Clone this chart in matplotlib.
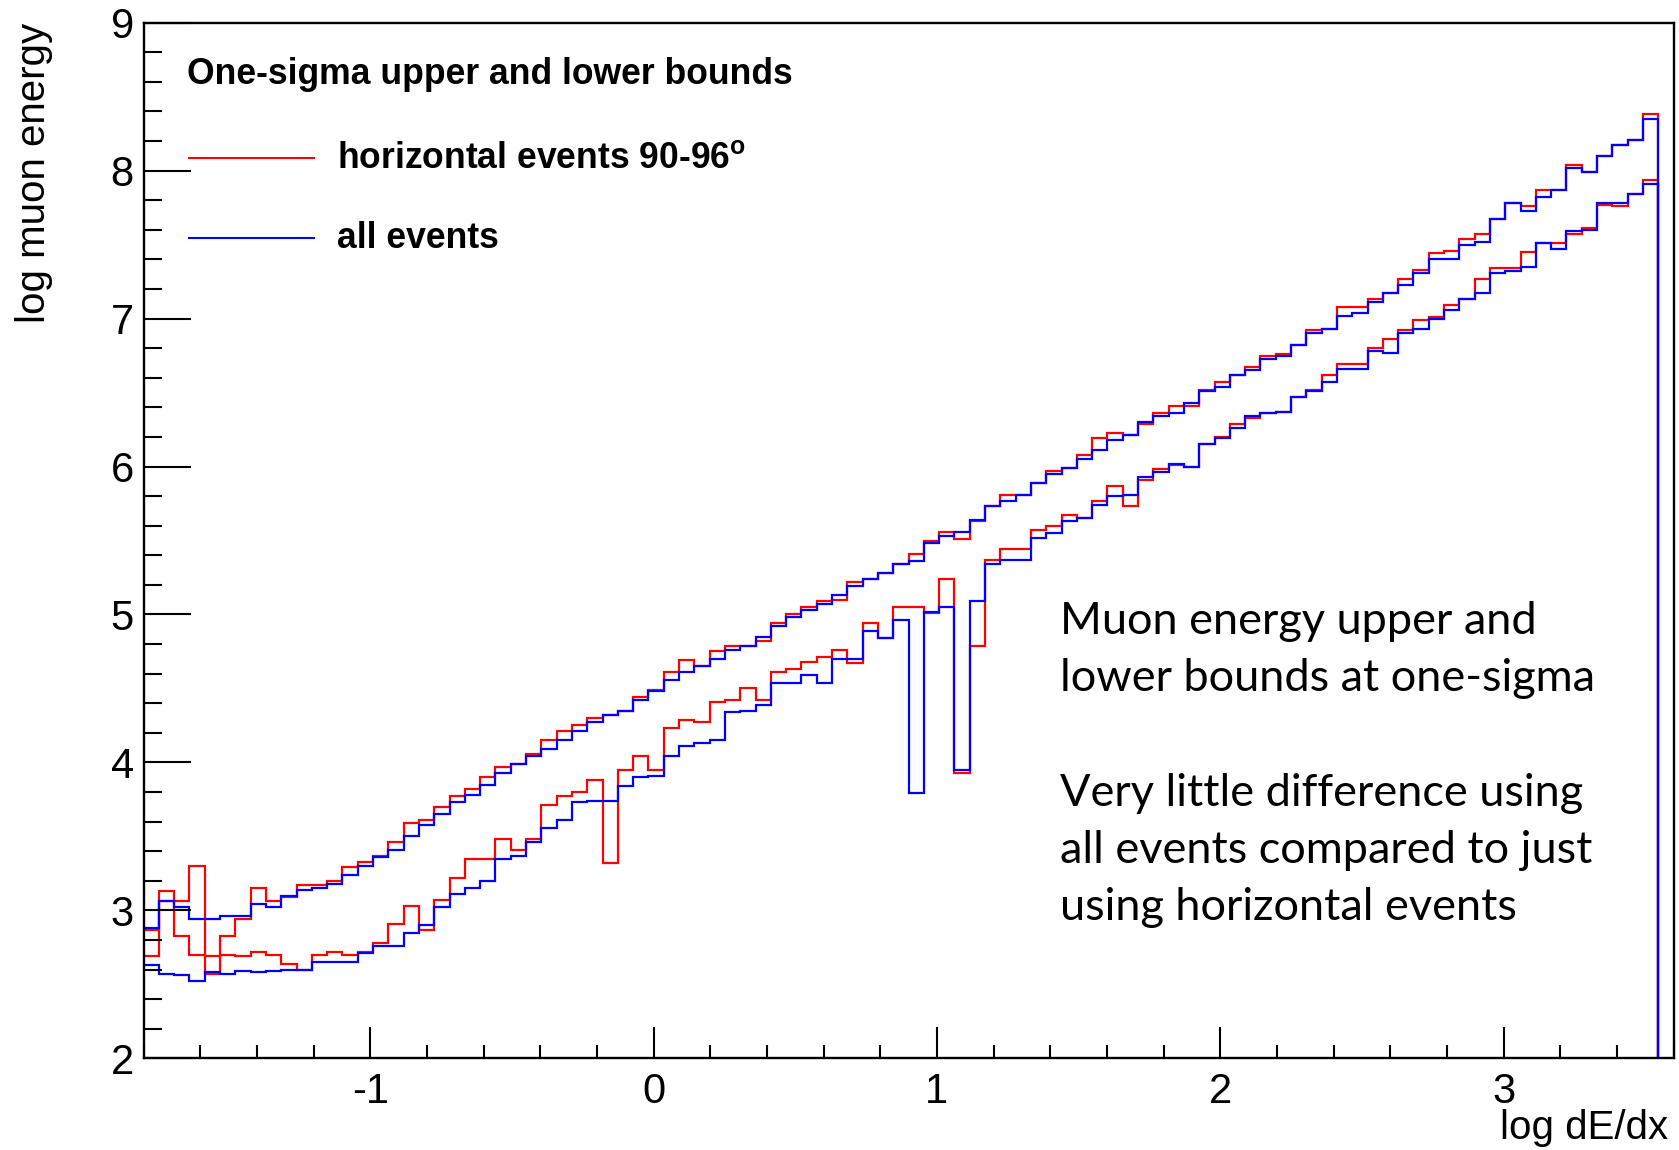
import numpy as np
import matplotlib
matplotlib.use('Agg')
import matplotlib.pyplot as plt
from matplotlib.lines import Line2D
from matplotlib.ticker import MultipleLocator

# Binning of log dE/dx (100 bins over the axis range).
x_lo, x_hi, n_bins = -1.8, 3.6, 100

# One-sigma bounds of log muon energy, horizontal events 90-96 deg (red).
red_upper = [2.87, 3.13, 3.06, 3.30, 2.69, 2.83, 2.94, 3.15, 3.06, 3.09,
             3.17, 3.17, 3.20, 3.29, 3.33, 3.37, 3.46, 3.59, 3.61, 3.70,
             3.77, 3.82, 3.90, 3.97, 3.99, 4.06, 4.15, 4.21, 4.25, 4.30,
             4.32, 4.35, 4.44, 4.49, 4.61, 4.69, 4.65, 4.75, 4.79, 4.79,
             4.82, 4.94, 5.00, 5.05, 5.09, 5.10, 5.22, 5.24, 5.28, 5.34,
             5.41, 5.50, 5.56, 5.51, 5.63, 5.73, 5.81, 5.81, 5.89, 5.97,
             5.99, 6.08, 6.19, 6.23, 6.21, 6.29, 6.36, 6.41, 6.41, 6.52,
             6.57, 6.62, 6.67, 6.75, 6.76, 6.82, 6.92, 6.93, 7.08, 7.08,
             7.13, 7.17, 7.27, 7.33, 7.44, 7.46, 7.54, 7.57, 7.67, 7.78,
             7.76, 7.87, 7.87, 8.04, 7.99, 8.10, 8.17, 8.21, 8.38, 0.0]
red_lower = [2.69, 3.06, 2.83, 2.70, 2.57, 2.70, 2.69, 2.72, 2.70, 2.64,
             2.60, 2.70, 2.72, 2.70, 2.72, 2.78, 2.91, 3.03, 2.87, 3.07,
             3.22, 3.35, 3.35, 3.48, 3.41, 3.48, 3.71, 3.77, 3.80, 3.88,
             3.32, 3.95, 4.04, 3.95, 4.23, 4.29, 4.27, 4.41, 4.42, 4.50,
             4.42, 4.61, 4.63, 4.68, 4.71, 4.76, 4.67, 4.94, 4.84, 5.05,
             5.05, 5.01, 5.24, 3.93, 4.79, 5.37, 5.44, 5.44, 5.57, 5.60,
             5.67, 5.65, 5.77, 5.87, 5.73, 5.91, 5.98, 6.01, 6.00, 6.15,
             6.20, 6.29, 6.33, 6.36, 6.37, 6.47, 6.52, 6.62, 6.69, 6.69,
             6.80, 6.86, 6.92, 6.99, 7.01, 7.09, 7.13, 7.27, 7.34, 7.34,
             7.45, 7.51, 7.51, 7.57, 7.61, 7.77, 7.76, 7.84, 7.94, 0.0]

# Same bounds using all events (blue).
blue_upper = [2.88, 3.06, 3.02, 2.94, 2.94, 2.96, 2.96, 3.04, 3.02, 3.10,
              3.14, 3.15, 3.18, 3.24, 3.30, 3.36, 3.41, 3.50, 3.58, 3.65,
              3.73, 3.78, 3.85, 3.93, 3.99, 4.04, 4.09, 4.15, 4.21, 4.27,
              4.32, 4.35, 4.42, 4.48, 4.56, 4.61, 4.65, 4.70, 4.76, 4.79,
              4.85, 4.92, 4.98, 5.03, 5.07, 5.13, 5.19, 5.24, 5.28, 5.34,
              5.36, 5.48, 5.53, 5.56, 5.64, 5.73, 5.77, 5.81, 5.89, 5.95,
              5.99, 6.05, 6.11, 6.18, 6.21, 6.30, 6.34, 6.36, 6.43, 6.51,
              6.54, 6.62, 6.65, 6.73, 6.75, 6.82, 6.90, 6.93, 7.02, 7.04,
              7.11, 7.17, 7.23, 7.31, 7.40, 7.40, 7.50, 7.52, 7.67, 7.78,
              7.73, 7.82, 7.87, 8.02, 7.99, 8.10, 8.17, 8.21, 8.35, 0.0]
blue_lower = [2.63, 2.57, 2.56, 2.52, 2.58, 2.57, 2.59, 2.58, 2.59, 2.60,
              2.60, 2.65, 2.65, 2.65, 2.71, 2.76, 2.76, 2.85, 2.90, 3.02,
              3.11, 3.15, 3.20, 3.35, 3.37, 3.46, 3.56, 3.61, 3.73, 3.74,
              3.74, 3.84, 3.90, 3.91, 4.04, 4.11, 4.13, 4.15, 4.34, 4.35,
              4.39, 4.54, 4.54, 4.59, 4.54, 4.70, 4.70, 4.89, 4.84, 4.96,
              3.79, 5.02, 5.05, 3.95, 5.09, 5.34, 5.37, 5.37, 5.52, 5.55,
              5.63, 5.65, 5.74, 5.80, 5.81, 5.93, 5.96, 6.02, 6.00, 6.15,
              6.19, 6.26, 6.34, 6.36, 6.37, 6.47, 6.51, 6.57, 6.66, 6.66,
              6.78, 6.77, 6.90, 6.93, 7.00, 7.06, 7.13, 7.17, 7.31, 7.32,
              7.35, 7.51, 7.47, 7.59, 7.60, 7.78, 7.78, 7.84, 7.91, 0.0]

x_ticks = [-1, 0, 1, 2, 3]
y_ticks = [2, 3, 4, 5, 6, 7, 8, 9]

legend_title = 'One-sigma upper and lower bounds'
legend_labels = ['horizontal events 90-96$^{\\mathbf{o}}$', 'all events']
note_lines = ['Muon energy upper and', 'lower bounds at one-sigma', '',
              'Very little difference using', 'all events compared to just',
              'using horizontal events']

W, H = 1679, 1150
plt.rcParams['font.family'] = ['Liberation Sans', 'DejaVu Sans']
plt.rcParams['axes.unicode_minus'] = False
plt.rcParams['mathtext.fontset'] = 'custom'
plt.rcParams['mathtext.bf'] = 'Liberation Sans:bold'

fig = plt.figure(figsize=(W / 100, H / 100), dpi=100)
ax = fig.add_axes([143.5 / W, 1 - 1058.3 / H, 1530 / W, 1035.6 / H])

edges = np.linspace(x_lo, x_hi, n_bins + 1)
for vals in (red_upper, red_lower):
    ax.stairs(vals, edges, baseline=None, color='#ff0000', lw=1.6)
for vals in (blue_upper, blue_lower):
    ax.stairs(vals, edges, baseline=None, color='#0000ff', lw=1.6)

ax.set_xlim(x_lo, x_hi)
ax.set_ylim(2, 9)
ax.set_xticks(x_ticks)
ax.set_yticks(y_ticks)
ax.xaxis.set_minor_locator(MultipleLocator(0.2))
ax.yaxis.set_minor_locator(MultipleLocator(0.2))
ax.tick_params(axis='both', which='both', direction='in', width=1.5,
               top=False, right=False, labelsize=30)
ax.tick_params(axis='y', which='major', length=34, pad=7)
ax.tick_params(axis='y', which='minor', length=13)
ax.tick_params(axis='x', which='major', length=22, pad=10)
ax.tick_params(axis='x', which='minor', length=9.5)
for s in ax.spines.values():
    s.set_linewidth(1.7)

# Axis titles (ROOT style: right / top aligned).
fig.text(34 / W, 1 - 23 / H, 'log muon energy', rotation=90,
         ha='center', va='top', fontsize=29)
fig.text(1668 / W, 1 - 1128 / H, 'log dE/dx', ha='right', va='center',
         fontsize=29)

# Legend drawn by hand like the ROOT TLegend.
fig.text(187 / W, 1 - 74 / H, legend_title, ha='left', va='center',
         fontsize=25.6, fontweight='bold')
for lab, col, yy in zip(legend_labels, ['#ff0000', '#0000ff'], [158, 238]):
    fig.add_artist(Line2D([189 / W, 314 / W], [1 - yy / H, 1 - yy / H],
                          color=col, lw=1.5))
    fig.text(337 / W, 1 - (yy + 1) / H, lab, ha='left', va='center',
             fontsize=25.6, fontweight='bold')

# Slide annotation.
for i, line in enumerate(note_lines):
    fig.text(1060 / W, 1 - (621 + 57.4 * i) / H, line, ha='left',
             va='center', fontsize=32.5, family='Lato')

fig.savefig('out.png', dpi=100)
